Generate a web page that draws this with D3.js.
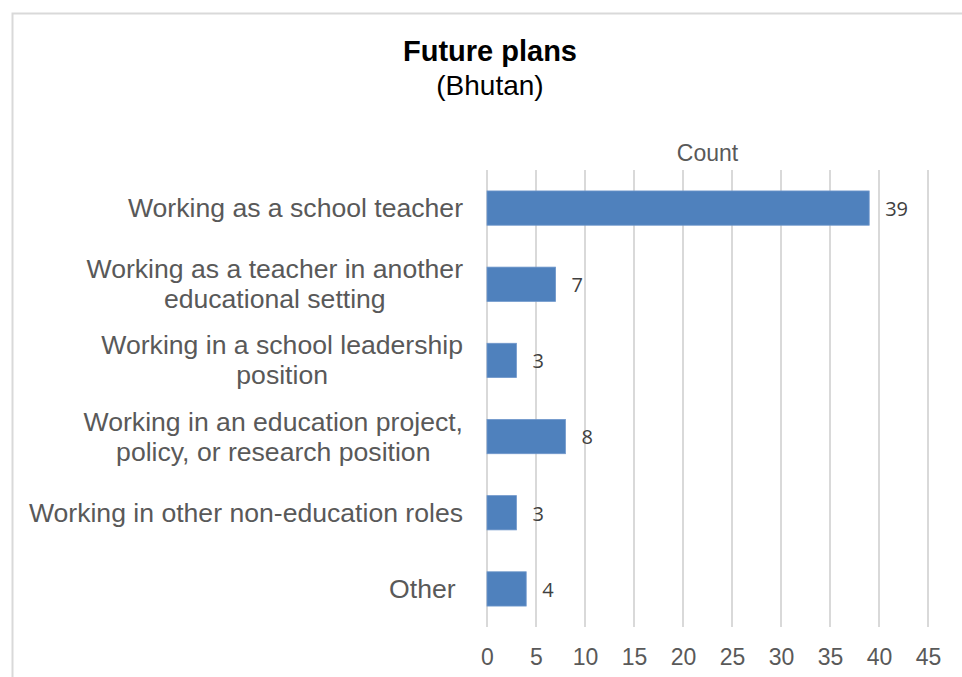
<!DOCTYPE html>
<html>
<head>
<meta charset="utf-8">
<script src="https://cdn.jsdelivr.net/npm/d3@7"></script>
<style>
  html, body { margin: 0; padding: 0; background: #fff; }
  svg { display: block; }
</style>
</head>
<body>
<svg id="chart" width="962" height="677"></svg>
<script>
// Survey responses: future plans (Bhutan)
const categories = [
  ["Working as a school teacher"],
  ["Working as a teacher in another", "educational setting"],
  ["Working in a school leadership", "position"],
  ["Working in an education project,", "policy, or research position"],
  ["Working in other non-education roles"],
  ["Other\u00A0"]
];
const counts = [39, 7, 3, 8, 3, 4];
const tickValues = [0, 5, 10, 15, 20, 25, 30, 35, 40, 45];

const svg = d3.select("#chart");
const W = 962, H = 677;
const plot = { left: 487, right: 928, top: 170, bottom: 627 };
const sans = "Liberation Sans, Arial, sans-serif";

// Outer chart frame
svg.append("rect")
  .attr("x", 12.5).attr("y", 13.5)
  .attr("width", W).attr("height", H)
  .attr("fill", "none").attr("stroke", "#d9d9d9").attr("stroke-width", 2);

const x = d3.scaleLinear().domain([0, 45]).range([plot.left, plot.right]);
const y = d3.scaleBand()
  .domain(d3.range(categories.length))
  .range([plot.top, plot.bottom])
  .paddingInner(0.55).paddingOuter(0.275);

// Vertical gridlines
svg.append("g")
  .selectAll("line")
  .data(tickValues)
  .join("line")
  .attr("x1", d => x(d)).attr("x2", d => x(d))
  .attr("y1", plot.top).attr("y2", plot.bottom)
  .attr("stroke", "#d9d9d9").attr("stroke-width", 2);

// Bottom axis labels
const xAxis = d3.axisBottom(x).tickValues(tickValues).tickSize(0).tickPadding(0);
const gx = svg.append("g")
  .attr("transform", `translate(0, ${plot.bottom + 32})`)
  .call(xAxis);
gx.select(".domain").remove();
gx.selectAll("text")
  .attr("font-family", sans)
  .attr("font-size", 23)
  .attr("fill", "#595959")
  .attr("dy", "0")
  .attr("dominant-baseline", "middle");

// Bars
svg.append("g")
  .selectAll("rect")
  .data(counts)
  .join("rect")
  .attr("x", x(0))
  .attr("y", (d, i) => y(i))
  .attr("width", d => x(d) - x(0))
  .attr("height", y.bandwidth())
  .attr("fill", "#4f81bd")
  .attr("stroke", "#6f97cb")
  .attr("stroke-width", 0.8);

// Value labels
svg.append("g")
  .selectAll("text")
  .data(counts)
  .join("text")
  .attr("x", d => x(d) + 16)
  .attr("y", (d, i) => y(i) + y.bandwidth() / 2 + 2.5)
  .attr("dominant-baseline", "middle")
  .attr("font-family", "Open Sans, sans-serif")
  .attr("font-size", 20)
  .attr("fill", "#404040")
  .text(d => d);

// Category labels: each block is right-aligned, its lines centred within it
const labelRight = 463;
const catG = svg.append("g");
categories.forEach((lines, i) => {
  const cy = y(i) + y.bandwidth() / 2 + 2;
  const lh = 30;
  const t = catG.append("text")
    .attr("text-anchor", "middle")
    .attr("font-family", sans)
    .attr("font-size", 26.6)
    .attr("fill", "#595959");
  const spans = lines.map((ln, j) =>
    t.append("tspan")
      .attr("y", cy + (j - (lines.length - 1) / 2) * lh)
      .attr("dominant-baseline", "middle")
      .text(ln));
  const maxW = d3.max(spans, s => s.node().getComputedTextLength());
  spans.forEach(s => s.attr("x", labelRight - maxW / 2));
});

// Axis title
svg.append("text")
  .attr("x", (plot.left + plot.right) / 2)
  .attr("y", 155)
  .attr("text-anchor", "middle")
  .attr("dominant-baseline", "middle")
  .attr("font-family", sans)
  .attr("font-size", 23)
  .attr("fill", "#595959")
  .text("Count");

// Chart title
svg.append("text")
  .attr("x", 490).attr("y", 53)
  .attr("text-anchor", "middle")
  .attr("dominant-baseline", "middle")
  .attr("font-family", sans)
  .attr("font-size", 29).attr("font-weight", "bold")
  .attr("fill", "#000")
  .text("Future plans");
svg.append("text")
  .attr("x", 490).attr("y", 88)
  .attr("text-anchor", "middle")
  .attr("dominant-baseline", "middle")
  .attr("font-family", sans)
  .attr("font-size", 28)
  .attr("fill", "#000")
  .text("(Bhutan)");
</script>
</body>
</html>
